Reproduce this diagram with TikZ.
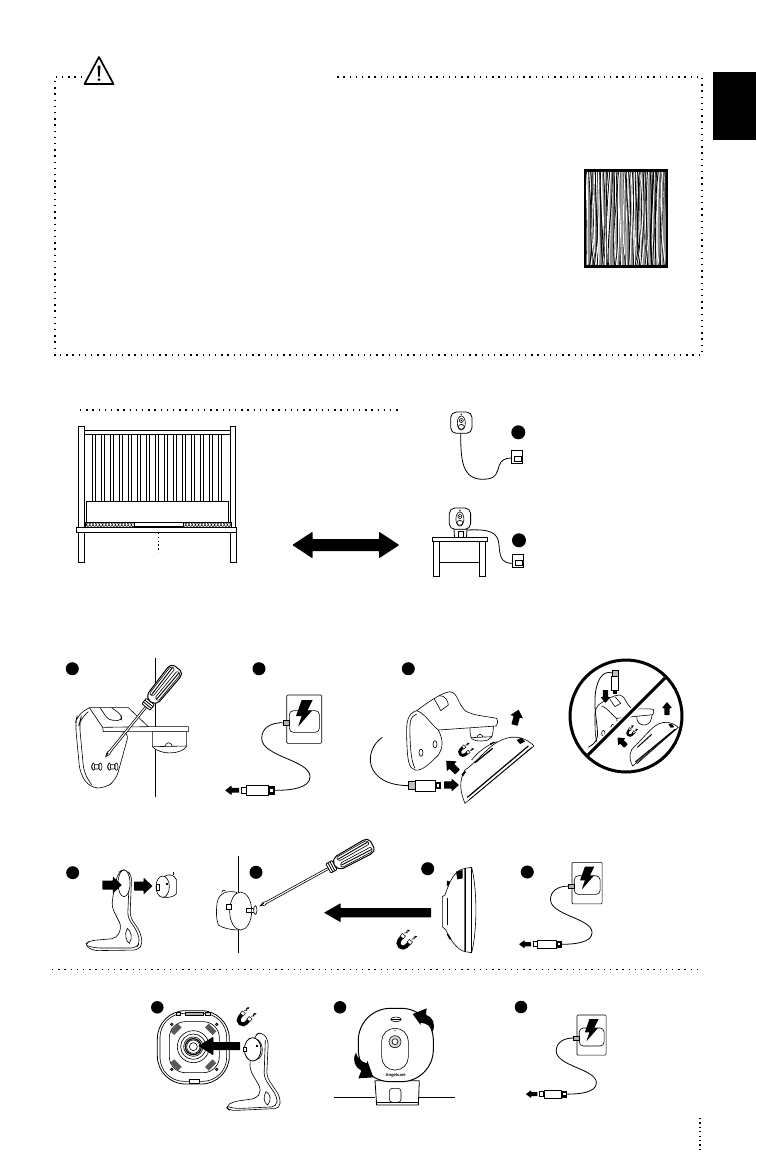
\documentclass[tikz,border=0pt]{standalone}
\usepackage{fontspec}
\setmainfont{Liberation Sans}
\usetikzlibrary{arrows.meta}
\tikzset{
  dotline/.style={line width=1.4pt,dash pattern=on 1.4pt off 4.8pt,black},
  bullet/.style={circle,fill=black,inner sep=0pt,minimum size=#1},
  bullet/.default=13pt,
  thinl/.style={line width=0.6pt,black},
  medl/.style={line width=0.8pt,black},
  cablel/.style={line width=0.8pt,black},
}
% filled arrow: tail x,y; angle; length; head half; shaft half; head length
\newcommand{\fatarrow}[7]{\fill[black,rounded corners=0.5pt,shift={({#1},{#2})},rotate=#3]
  (0,-#6)--({#4-#7},-#6)--({#4-#7},-#5)--(#4,0)--({#4-#7},#5)--({#4-#7},#6)--(0,#6)--cycle;}
\newcommand{\magnet}[4]{\begin{scope}[shift={(#1,#2)},rotate=#3,scale=#4]
  \draw[line width=3.4*#4 pt,black] (-4,-3) -- (-4,0) arc (180:0:4) -- (4,-3);
  \draw[line width=0.5pt,fill=white] (-5.8,-6) rectangle (-2.2,-3);
  \draw[line width=0.5pt,fill=white] (2.2,-6) rectangle (5.8,-3);
  \draw[line width=0.7pt,-{Stealth[length=2.6pt,width=2.4pt]}] (-4.6,-7.5)--(-3,-9.2)--(-4.2,-10)--(-2.6,-12.5);
  \draw[line width=0.7pt,-{Stealth[length=2.6pt,width=2.4pt]}] (3.6,-7.5)--(5.2,-9.2)--(4,-10)--(5.6,-12.5);
\end{scope}}
\newcommand{\sdriver}[4]{\begin{scope}[shift={(#1,#2)},rotate=#3]
  \draw[thinl,fill=white] (0,0)--(4.5,-1.7)--(7,-1)--(#4,-1)--(#4,1)--(7,1)--(4.5,1.7)--cycle;
  \fill (0,0)--(4.5,-1.7)--(4.5,0)--cycle;
  \begin{scope}[shift={(#4,0)}]
    \draw[medl,fill=white,rounded corners=0.8pt] (0,-5.2)--(7,-5.2)--(7,5.2)--(0,5.2)--cycle;
    \draw[medl] (2.3,-5.2)--(2.3,5.2) (4.6,-5.2)--(4.6,5.2);
    \draw[line width=1pt,fill=white,rounded corners=2pt] (7,-2.8)--(11,-7)--(46,-8)--(50,-5.4)--(50,5.4)--(46,8)--(11,7)--(7,2.8)--cycle;
    \draw[line width=0.9pt] (13,-3.4)--(47,-4.2) (13,3.4)--(47,4.2);
    \draw[line width=0.6pt,rounded corners=1.5pt] (12,-5.8)--(47,-6.4)--(48,-1.6)--(13,-1.2)--cycle (12,5.8)--(47,6.4)--(48,1.6)--(13,1.2)--cycle;
  \end{scope}
\end{scope}}
\newcommand{\charger}[3]{\begin{scope}[shift={(#1,#2)},scale=#3/3]\begin{scope}[shift={(-740,-165)}]
  \draw[thinl,fill=white,rounded corners=1pt] (740,165) rectangle (845,310);
  \draw[thinl,fill=white,rounded corners=4pt] (748,212) rectangle (838,277);
  \fill (785,180)--(818,180)--(802,212)--(816,212)--(774,260)--(785,228)--(768,228)--cycle;
  \draw[line width=0.4pt,fill=gray!60] (728,241) rectangle (747,255);
  \draw[cablel] (728,248) .. controls (690,248) and (665,265) .. (665,295)
     .. controls (665,350) and (810,360) .. (810,410) .. controls (810,445) and (750,451) .. (705,451);
  \draw[thinl,fill=white] (620,436) rectangle (685,466);
  \fill (685,438) rectangle (705,464);
  \fill[white] (691,447) rectangle (699,455);
  \draw[medl,fill=white] (604,442) rectangle (620,460);
\end{scope}\end{scope}
\fatarrow{#1+(597-740)*#3/3}{#2+(451-165)*#3/3}{180}{14*#3}{4.8*#3}{2.4*#3}{6.5*#3}}
\newcommand{\smallcam}[2]{\begin{scope}[shift={(#1,#2)}]
  \draw[medl,fill=white,rounded corners=5.5pt] (0,0) rectangle (21.3,21.3);
  \draw[thinl] (10.6,11) ellipse (4 and 7);
  \draw[thinl] (10.6,8.5) circle (2);
  \fill (10.6,8.5) circle (0.8);
  \draw[thinl] (10.6,14.8) ellipse (3 and 2.4);
  \fill (10.6,2.6) circle (0.8);
\end{scope}}
\begin{document}
\begin{tikzpicture}[x=1pt,y=-1pt]
\useasboundingbox (0,0) rectangle (756,1152);
\fill[white] (0,0) rectangle (756,1152);
% --- warning frame
\draw[dotline] (82,77)--(55,77)--(55,355)--(702,355)--(702,77)--(335,77);
\draw[line width=1.7pt,line join=round] (99,57)--(113.5,84)--(84.5,84)--cycle;
\fill (97.5,65.5)--(100.5,65.5)--(99.8,76.5)--(98.2,76.5)--cycle;
\fill (99,79.7) circle (1.5);
\fill (713,72) rectangle (756,140);
% --- wood sample
\begin{scope}
  \clip (584.5,170) rectangle (667.5,267);
  \fill[black!45] (584.5,170) rectangle (667.5,267);
  \pgfmathsetseed{11}
  \foreach \i in {0,...,46}{
    \pgfmathsetmacro\xa{585+\i*1.8}
    \pgfmathsetmacro\xb{\xa+5*rand}
    \pgfmathsetmacro\xc{\xa+6*rand}
    \pgfmathsetmacro\xd{\xa+5*rand}
    \pgfmathsetmacro\w{0.5+0.4*(1+rand)}
    \draw[line width=\w pt,black] (\xa,168) .. controls (\xb,200) and (\xc,235) .. (\xd,269);
    \pgfmathsetmacro\xe{\xa+0.9}
    \pgfmathsetmacro\xf{\xb+1+2*rand}
    \pgfmathsetmacro\xg{\xc+1+2*rand}
    \pgfmathsetmacro\xh{\xd+1}
    \pgfmathsetmacro\u{0.4+0.4*(1+rand)}
    \draw[line width=\u pt,white] (\xe,168) .. controls (\xf,200) and (\xg,235) .. (\xh,269);
  }
\end{scope}
\draw[line width=2.6pt] (585,170.5) rectangle (667,266.5);
% --- section rule
\draw[dotline] (80,410)--(400,410);
% --- crib
\begin{scope}[medl]
  \foreach \i in {0,...,14}{
    \pgfmathsetmacro\xx{92.3+\i*9}
    \draw[fill=white,line width=0.7pt] (\xx,434.7) rectangle (\xx+2.7,502);
  }
  \draw[fill=white] (84,430.7) rectangle (231,434.7);
  \draw[fill=white] (78.3,426.7) rectangle (84.3,527.3);
  \draw[fill=white] (230.7,426.7) rectangle (235.7,527.3);
  \draw[fill=white] (86,501.7) rectangle (228.7,522);
  \draw[fill=white] (85,522) rectangle (231,527.3);
  \begin{scope}
    \clip (85,522) rectangle (231,527.3);
    \foreach \i in {0,...,47}{
      \pgfmathsetmacro\xx{85+\i*3.2}
      \draw[line width=0.45pt] (\xx,522)--(\xx+3.2,527.3) (\xx+3.2,522)--(\xx,527.3);
    }
  \end{scope}
  \draw[thinl,fill=white] (134,522.7) rectangle (183.3,526);
  \draw[fill=white] (76.7,527.3) rectangle (236.7,532);
  \draw[fill=white] (78.3,532) rectangle (84.3,562.5);
  \draw[fill=white] (230.7,532) rectangle (236.7,562.5);
\end{scope}
\draw[line width=1.3pt,dash pattern=on 1.3pt off 2.5pt] (158.3,533)--(158.3,552);
% --- double arrow
\fill[black,rounded corners=0.7pt] (292.3,545)--(312.5,531.7)--(312.5,539)--(379,539)--(379,531.7)--(399.3,545)--(379,558.3)--(379,551)--(312.5,551)--(312.5,558.3)--cycle;
% --- camera with cable
\smallcam{450.7}{412}
\draw[cablel] (460.7,433.3) .. controls (460.7,460) and (462,479.3) .. (483,479.3) .. controls (497,479.3) and (497,472) .. (499,466) .. controls (501,460) and (505,458) .. (511.7,458);
\draw[thinl,fill=white] (511.7,450) rectangle (522.7,463.3);
\draw[thinl,fill=white] (514.2,456) rectangle (521,461.7);
\node[bullet=14pt] (capA) at (518.3,432.3) {};
% --- camera on table
\draw[cablel] (466.7,530) .. controls (490,529) and (498,532) .. (499,545) .. controls (500,560) and (503,563.3) .. (512.7,563.3);
\draw[medl,fill=white] (454,529) -- (454.5,537.7)--(466.5,537.7)--(467,529)--cycle;
\draw[thinl] (458,531) rectangle (463,537.7);
\smallcam{449.3}{508}
\draw[medl,fill=white] (432.3,537.7) rectangle (487.7,541.7);
\draw[medl] (433.7,541.7) rectangle (439.3,576.3) (479.3,541.7) rectangle (485.3,576.3) (439.3,562.3)--(479.3,562.3);
\draw[thinl,fill=white] (512.7,554) rectangle (523.3,567.3);
\draw[thinl,fill=white] (515,560) rectangle (522,565.5);
\node[bullet=14pt] (capB) at (519,540.3) {};
% --- step row 1 : screw bracket
\node[bullet] (s1) at (72.3,668.7) {};
\node[bullet] (s2) at (259,668.7) {};
\node[bullet] (s3) at (408.3,668.7) {};
\draw[line width=0.9pt] (155.7,658.3)--(155.7,796.7);
\begin{scope}[shift={(40,640)},scale=1/3]
  \draw[thinl,fill=white] (337,274) -- (337,320) .. controls (360,345) and (420,345) .. (440,320) -- (440,274) -- cycle;
  \draw[thinl] (375,318) .. controls (380,305) and (392,305) .. (397,318) (340,320)--(440,318);
  \draw[thinl,fill=white,rounded corners=8pt] (148,203)--(112,225)--(106,250)--(120,400)--(150,443)--(195,445)--(228,420)--(268,275)--(190,275);
  \draw[thinl,rounded corners=8pt] (145,215)--(122,235)--(118,250)--(132,400)--(155,434);
  \draw[thinl,fill=white] (148,203)--(265,203)--(325,260)--(445,260)--(445,275)--(190,275)--(188,262)--cycle;
  \draw[thinl] (190,262)--(325,260);
  \draw[thinl,rounded corners=4pt] (180,203)--(205,240)--(245,242)--(245,225)--(215,203);
  \foreach \xx in {155,203}{
    \draw[thinl,fill=white,rounded corners=1pt] (\xx,373) rectangle (\xx+22,387);
    \draw[thinl,fill=white] (\xx+5,380) ellipse (4 and 11);
    \draw[thinl] (\xx+26,380) ellipse (5 and 11);
  }
\end{scope}
\sdriver{105.7}{756.7}{51}{64}
% --- step 2 charger
\charger{286.7}{695}{1}
% --- step 3 : attach camera
\begin{scope}[shift={(350,640)},scale=1/3]
  \draw[thinl,fill=white] (360,265) .. controls (360,300) and (365,302) .. (395,303) .. controls (425,302) and (430,290) .. (430,255);
  \draw[thinl] (380,292) .. controls (385,280) and (395,280) .. (400,292) (363,293)--(427,290);
  \draw[thinl,fill=white] (200,212) .. controls (230,190) and (270,160) .. (300,155) .. controls (325,160) and (320,185) .. (345,212) .. controls (370,228) and (420,230) .. (440,235) .. controls (445,245) and (442,255) .. (438,258) -- (265,270) .. controls (280,300) and (280,320) .. (265,345) .. controls (240,370) and (215,395) .. (195,390) .. controls (175,385) and (172,360) .. (170,290) .. controls (168,240) and (175,220) .. (200,212) -- cycle;
  \draw[thinl] (200,222) .. controls (180,228) and (178,250) .. (180,290) .. controls (182,340) and (185,365) .. (195,385);
  \draw[thinl] (200,212) .. controls (225,220) and (240,250) .. (265,270);
  \draw[thinl] (252,175)--(272,212) (268,167) .. controls (285,165) and (295,185) .. (295,195) -- (272,212);
  \draw[thinl] (213,338) ellipse (6 and 11) (255,313) ellipse (6 and 11);
  \draw[cablel] (97,292) .. controls (40,330) and (40,435) .. (175,437);
  \draw[thinl,fill=gray!50] (175,425) rectangle (197,449);
  \draw[thinl,fill=white] (197,421) rectangle (255,453);
  \fill (255,426) rectangle (272,448);
  \fill[white] (260,433) rectangle (267,441);
  \draw[thinl,fill=white] (345,490) .. controls (328,450) and (328,420) .. (345,390) .. controls (370,375) and (420,315) .. (445,305) .. controls (480,285) and (520,285) .. (552,318) -- cycle;
  \draw[line width=1.2pt] (352,472)--(535,318);
  \draw[thinl] (357,480)--(545,322);
  \draw[line width=1.3pt] (375,368)--(428,325);
  \draw[thinl] (365,360) .. controls (380,340) and (410,315) .. (440,305);
  \fill (500,300)--(515,293)--(525,305)--(510,312)--cycle;
  \fill (335,403)--(345,392)--(348,396)--(338,410)--cycle;
  \fill (420,310)--(432,305)--(432,309)--(422,315)--cycle;
\end{scope}
\magnet{463}{752}{-50}{0.85}
\fatarrow{457.5}{772}{135}{16}{7}{3.4}{8}
\fatarrow{514.5}{725}{75}{16}{6.5}{3.2}{7.5}
\fatarrow{444}{785}{0}{15}{6.5}{3.6}{7.5}
% --- no-sign
\begin{scope}[shift={(350,640)},scale=1/3]
  \draw[thinl,fill=white] (860,232) .. controls (862,250) and (870,255) .. (885,255) .. controls (900,253) and (905,240) .. (907,220);
  \draw[thinl,fill=white] (755,188) .. controls (770,178) and (790,165) .. (810,165) .. controls (828,170) and (825,190) .. (845,205) .. controls (865,208) and (895,205) .. (910,208) .. controls (913,215) and (912,220) .. (908,224) -- (800,235) .. controls (805,255) and (800,270) .. (790,280) -- (750,320) .. controls (735,310) and (735,270) .. (735,240) .. controls (733,210) and (740,195) .. (755,188) -- cycle;
  \draw[thinl] (755,198) .. controls (775,205) and (785,225) .. (800,235);
  \draw[thinl] (780,178)--(795,200)--(812,190) (795,170)--(812,190);
  \draw[thinl] (760,280) ellipse (5 and 9) (788,262) ellipse (5 and 9);
  \draw[cablel] (790,100) .. controls (755,85) and (735,130) .. (735,180) .. controls (733,220) and (745,265) .. (742,290) .. controls (738,310) and (725,315) .. (715,322);
  \draw[thinl,fill=gray!50] (787,92) rectangle (805,108);
  \draw[thinl,fill=white] (785,108) rectangle (805,150);
  \fill (790,150) rectangle (800,162);
  \draw[thinl,fill=white] (848,378) .. controls (835,355) and (838,330) .. (855,318) .. controls (880,295) and (900,265) .. (925,252) .. controls (945,243) and (965,245) .. (985,262) -- cycle;
  \draw[line width=1.1pt] (856,366)--(975,268);
  \draw[thinl] (860,372)--(980,266);
  \draw[line width=1pt] (862,322)--(905,283);
  \fill (955,252)--(968,253)--(972,262)--(962,263)--cycle;
\end{scope}
\fatarrow{605.5}{690}{-90}{13}{5}{2.6}{6}
\fatarrow{667}{715}{90}{13}{5}{2.6}{6}
\fatarrow{626}{746}{135}{12}{5}{2.6}{6}
\magnet{630}{733}{-40}{0.65}
\draw[line width=6pt,white] (588,755)--(665,678);
\draw[line width=3pt,black] (588,755)--(665,678);
\draw[line width=3pt,black] (626,716) circle (56);
% --- row 2
\node[bullet] (r1) at (72.7,872.7) {};
\begin{scope}[shift={(50,830)},scale=1/3]
  \draw[thinl,fill=white,rounded corners=5pt] (205,125)--(225,118)--(245,135)--(240,260)--(270,305)--(278,340)--(265,360)--(130,362)--(102,345)--(120,332)--(200,325)--(215,290)--(185,230)--(190,190)--cycle;
  \draw[thinl,rounded corners=5pt] (112,347)--(135,354)--(258,354)--(270,338)--(262,305)--(233,262)--(238,140);
  \draw[thinl,fill=white] (222,160) ellipse (18 and 40);
  \draw[thinl] (232,295) .. controls (222,310) and (228,335) .. (238,340) .. controls (248,325) and (245,305) .. (232,295) -- cycle;
  \draw[thinl,fill=white] (345,138) .. controls (355,132) and (372,132) .. (380,150) -- (380,190) .. controls (375,200) and (355,204) .. (340,202) -- cycle;
  \draw[thinl] (370,125)--(370,135);
  \draw[thinl,fill=white] (338,170) ellipse (20 and 32);
  \draw[medl,fill=white] (320,162) rectangle (328,180);
  \fill (348,158) rectangle (355,165);
  % wall mount
  \draw[line width=0.9pt] (565,78)--(565,370);
  \draw[thinl,fill=white] (560,187) .. controls (530,180) and (508,190) .. (502,215) .. controls (498,240) and (498,265) .. (505,285) .. controls (520,295) and (545,300) .. (565,300) -- cycle;
  \draw[thinl] (515,187) .. controls (515,180) and (522,178) .. (527,183);
  \draw[thinl,fill=white] (572,243) ellipse (33 and 57);
  \draw[thinl,fill=white] (530,224) rectangle (545,238);
  \draw[thinl] (590,234) rectangle (612,248);
  \draw[thinl,fill=white] (616,240) ellipse (5 and 13);
\end{scope}
\fatarrow{102.3}{885}{0}{19.5}{8.5}{4.5}{9}
\fatarrow{134}{886}{0}{18.5}{8.5}{4.5}{9}
\node[bullet] (r2) at (256,872.3) {};
\sdriver{260}{906}{28.8}{78}
\fatarrow{431}{912.7}{180}{107}{9.5}{4.7}{16.7}
\magnet{403}{943}{-40}{1.15}
\node[bullet] (r3) at (427.7,868.7) {};
\begin{scope}[shift={(370,830)},scale=1/3]
  \draw[thinl,fill=white] (285,115) .. controls (255,120) and (240,150) .. (225,195) -- (217,200) -- (217,290) -- (228,300) .. controls (235,320) and (260,360) .. (285,365) -- cycle;
  \draw[thinl,fill=white] (285,115)--(305,112) .. controls (322,180) and (322,300) .. (305,368)--(285,365)--cycle;
  \draw[line width=1pt] (285,115)--(285,365) (304,112)--(304,368);
  \fill (258,125)--(278,120)--(278,145)--(262,148)--cycle;
  \fill (232,152)--(240,155)--(235,170)--(230,165)--cycle;
  \fill (230,312)--(235,312)--(245,328)--(238,328)--cycle;
  \draw[thinl] (232,205) -- (232,285);
\end{scope}
\node[bullet] (r4) at (527.3,872) {};
\charger{572}{862.3}{0.86}
\draw[dotline] (52,969.3)--(702,969.3);
% --- row 3 : back of camera with stand
\node[bullet=12.5pt] (t1) at (157.3,1007.3) {};
\begin{scope}[shift={(140,990)},scale=1/3]
  \draw[medl,fill=white,rounded corners=28pt] (52,62) rectangle (268,282);
  \draw[thinl,rounded corners=24pt] (60,70) rectangle (260,274);
  \draw[thinl,rounded corners=16pt] (88,95) rectangle (238,248);
  \foreach \r in {48,38,29,20,12} {\draw[thinl] (160,170) circle (\r);}
  \draw[line width=1.2pt] (160,170) circle (24);
  \foreach \px/\py/\ang in {108/118/45,212/118/-45,108/225/-45,212/225/45}{
    \fill[gray!70!black,rotate around={\ang:(\px,\py)}] (\px-16,\py-8) rectangle (\px+16,\py+8);
  }
  \foreach \px/\py in {95/103,230/103,95/238,230/238}{\draw[thinl,fill=black!60] (\px,\py) circle (4);}
  \draw[thinl,fill=gray!60] (135,68) rectangle (190,76);
  \draw[thinl,fill=gray!30] (108,68) rectangle (122,76) (197,68) rectangle (212,76);
  \draw[thinl,fill=white] (148,267) rectangle (178,281);
  \draw[thinl,fill=white,rounded corners=5pt] (345,135)--(365,125)--(385,150)--(380,260)--(420,320)--(420,355)--(270,362)--(255,350)--(280,335)--(350,325)--(365,300)--(330,240)--(330,210)--cycle;
  \draw[thinl,rounded corners=5pt] (265,350)--(285,356)--(410,350)--(412,322)--(372,262)--(376,150);
  \draw[thinl] (378,305) .. controls (368,320) and (372,340) .. (383,345) .. controls (395,330) and (392,312) .. (378,305) -- cycle;
  \draw[medl,fill=white] (338,178) ellipse (25 and 35);
  \draw[thinl] (352,148) .. controls (372,160) and (372,200) .. (352,208);
  \draw[thinl,fill=white] (310,172) rectangle (320,184);
  \fill (348,165) rectangle (355,172);
\end{scope}
\fatarrow{240}{1046}{180}{41.7}{9.3}{4}{15}
\magnet{243}{1020}{-40}{1.1}
% camera front
\node[bullet=12.5pt] (t2) at (340,1007.3) {};
\begin{scope}[shift={(140,990)},scale=1/3]
  \draw[medl,fill=white] (705,272)--(710,345)--(835,345)--(838,272)--cycle;
  \draw[thinl] (708,337)--(836,337);
  \draw[thinl,rounded corners=3pt] (748,295) rectangle (783,337);
  \draw[line width=0.9pt] (582,322)--(705,322) (836,322)--(945,322);
  \draw[line width=1pt,fill=white,rounded corners=32pt] (655,55) rectangle (880,275);
  \draw[thinl,rounded corners=13pt] (725,115) rectangle (805,240);
  \draw[thinl,fill=gray!30] (765,155) circle (18);
  \draw[thinl,fill=white] (765,155) circle (9);
  \fill (765,122) circle (2);
  \draw[thinl] (768,88) ellipse (16 and 7);
  \draw[thinl] (752,88)--(784,88);
  \node[inner sep=0pt,font=\fontsize{4.2}{5}\selectfont\bfseries] (brand) at (767,256) {Angelcare};
\end{scope}
% curved arrows
\begin{scope}[shift={(140,990)},scale=1/3]
  \fill (818,72)--(860,55)--(858,74) .. controls (878,82) and (888,100) .. (878,125) .. controls (872,108) and (860,100) .. (842,98) -- (842,105) -- cycle;
  \fill (700,262)--(655,265)--(664,242) .. controls (645,232) and (635,210) .. (648,188) .. controls (652,205) and (665,215) .. (680,220) -- (682,212) -- cycle;
\end{scope}
\node[bullet=12.5pt] (t3) at (521,1007) {};
\charger{577}{1015}{0.83}
% bottom right dots
\draw[line width=1.2pt,dash pattern=on 1.2pt off 3.2pt] (700,1118)--(700,1152);
\end{tikzpicture}
\end{document}
